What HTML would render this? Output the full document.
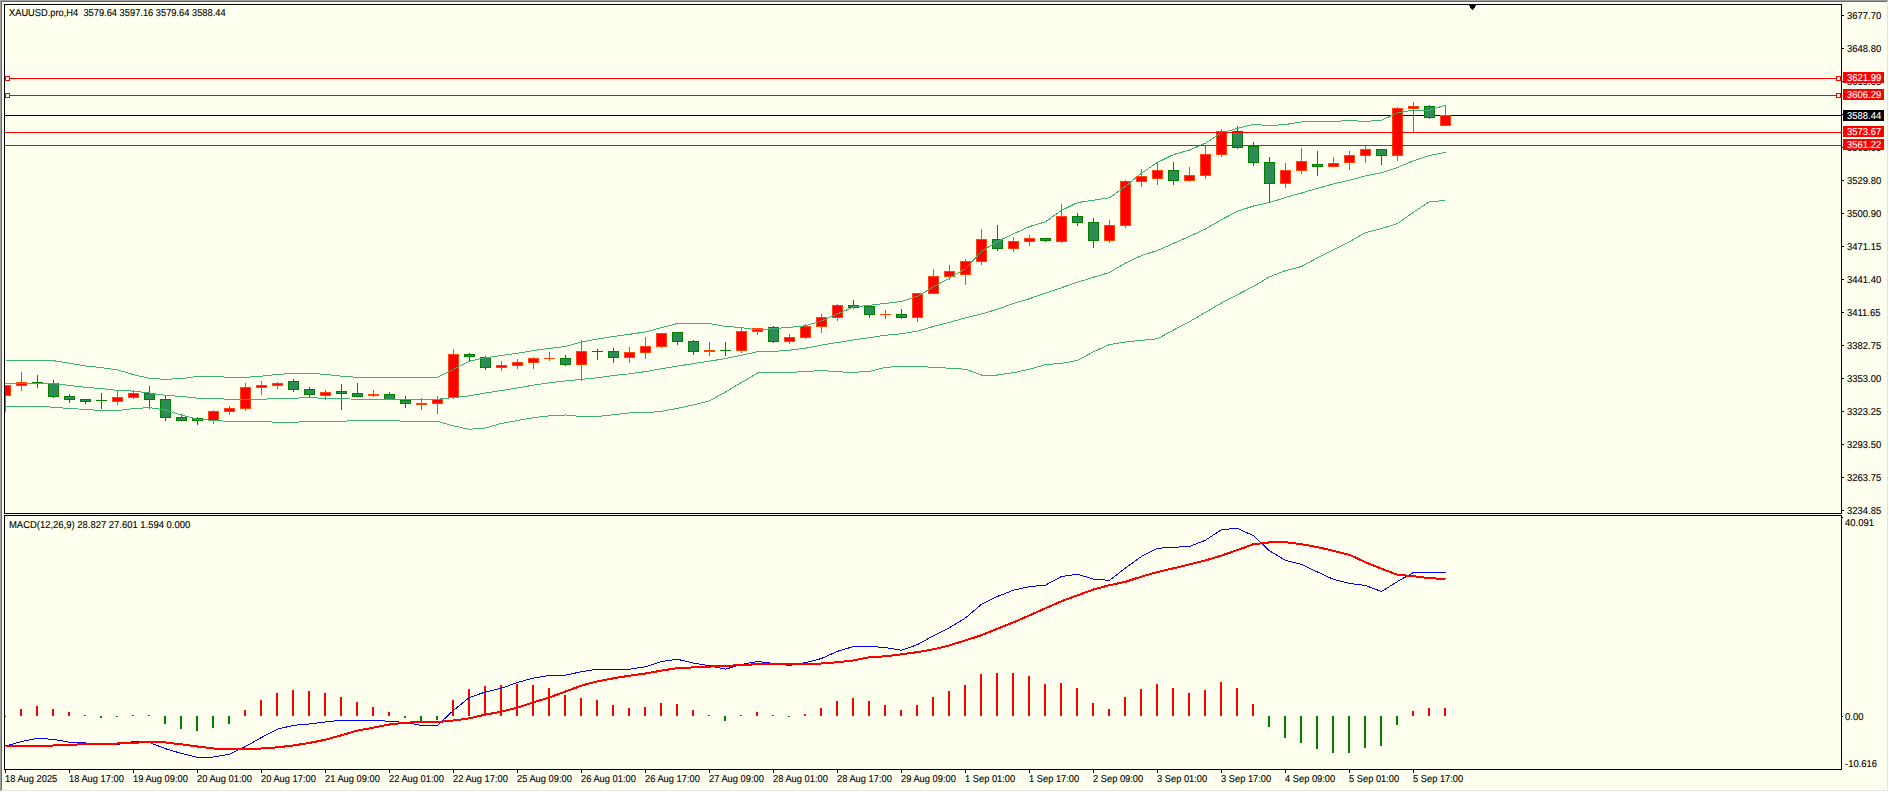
<!DOCTYPE html>
<html><head><meta charset="utf-8"><title>XAUUSD.pro,H4</title>
<style>html,body{margin:0;padding:0;background:#FFFFF0;overflow:hidden;width:1889px;height:792px} svg{display:block} text{white-space:pre}</style>
</head><body>
<svg width="1889" height="792" viewBox="0 0 1889 792" shape-rendering="crispEdges" text-rendering="geometricPrecision" font-family="'Liberation Sans', sans-serif">
<defs><clipPath id="cm"><rect x="5" y="5" width="1836" height="508"/></clipPath><clipPath id="cd"><rect x="5" y="516" width="1836" height="253"/></clipPath></defs>
<rect x="0" y="0" width="1889" height="792" fill="#FFFFF0"/>
<rect x="0" y="0" width="1888" height="1" fill="#A0A0A0"/>
<rect x="0" y="0" width="1" height="791" fill="#A0A0A0"/>
<rect x="1" y="1" width="1886" height="1" fill="#696969"/>
<rect x="1" y="1" width="1" height="789" fill="#696969"/>
<rect x="1887" y="1" width="1" height="790" fill="#E3E3E3"/>
<rect x="1" y="790" width="1887" height="1" fill="#E3E3E3"/>
<rect x="1888" y="0" width="1" height="792" fill="#FFFFFF"/>
<rect x="0" y="791" width="1889" height="1" fill="#FFFFFF"/>
<g clip-path="url(#cm)">
<rect x="5" y="115" width="1836" height="1" fill="#000000"/>
<rect x="5" y="385" width="1" height="27" fill="#FF4500"/>
<rect x="0" y="385" width="11" height="11" fill="#FF4500"/>
<rect x="1" y="386" width="9" height="9" fill="#FF0000"/>
<rect x="21" y="372" width="1" height="19" fill="#FF4500"/>
<rect x="16" y="382" width="11" height="4" fill="#FF4500"/>
<rect x="17" y="383" width="9" height="2" fill="#FF0000"/>
<rect x="37" y="375" width="1" height="13" fill="#008000"/>
<rect x="32" y="382" width="11" height="2" fill="#008000"/>
<rect x="53" y="380" width="1" height="18" fill="#008000"/>
<rect x="48" y="383" width="11" height="14" fill="#008000"/>
<rect x="49" y="384" width="9" height="12" fill="#2E8B57"/>
<rect x="69" y="394" width="1" height="9" fill="#008000"/>
<rect x="64" y="396" width="11" height="4" fill="#008000"/>
<rect x="65" y="397" width="9" height="2" fill="#2E8B57"/>
<rect x="85" y="399" width="1" height="5" fill="#008000"/>
<rect x="80" y="399" width="11" height="3" fill="#008000"/>
<rect x="81" y="400" width="9" height="1" fill="#2E8B57"/>
<rect x="101" y="393" width="1" height="16" fill="#008000"/>
<rect x="96" y="400" width="11" height="1" fill="#008000"/>
<rect x="117" y="391" width="1" height="14" fill="#FF4500"/>
<rect x="112" y="397" width="11" height="5" fill="#FF4500"/>
<rect x="113" y="398" width="9" height="3" fill="#FF0000"/>
<rect x="133" y="390" width="1" height="9" fill="#FF4500"/>
<rect x="128" y="393" width="11" height="5" fill="#FF4500"/>
<rect x="129" y="394" width="9" height="3" fill="#FF0000"/>
<rect x="149" y="386" width="1" height="23" fill="#008000"/>
<rect x="144" y="393" width="11" height="7" fill="#008000"/>
<rect x="145" y="394" width="9" height="5" fill="#2E8B57"/>
<rect x="165" y="396" width="1" height="25" fill="#008000"/>
<rect x="160" y="399" width="11" height="19" fill="#008000"/>
<rect x="161" y="400" width="9" height="17" fill="#2E8B57"/>
<rect x="181" y="414" width="1" height="7" fill="#008000"/>
<rect x="176" y="417" width="11" height="4" fill="#008000"/>
<rect x="177" y="418" width="9" height="2" fill="#2E8B57"/>
<rect x="197" y="417" width="1" height="8" fill="#008000"/>
<rect x="192" y="418" width="11" height="3" fill="#008000"/>
<rect x="193" y="419" width="9" height="1" fill="#2E8B57"/>
<rect x="213" y="410" width="1" height="14" fill="#FF4500"/>
<rect x="208" y="411" width="11" height="10" fill="#FF4500"/>
<rect x="209" y="412" width="9" height="8" fill="#FF0000"/>
<rect x="229" y="406" width="1" height="9" fill="#FF4500"/>
<rect x="224" y="408" width="11" height="4" fill="#FF4500"/>
<rect x="225" y="409" width="9" height="2" fill="#FF0000"/>
<rect x="245" y="383" width="1" height="28" fill="#FF4500"/>
<rect x="240" y="387" width="11" height="22" fill="#FF4500"/>
<rect x="241" y="388" width="9" height="20" fill="#FF0000"/>
<rect x="261" y="381" width="1" height="14" fill="#FF4500"/>
<rect x="256" y="385" width="11" height="3" fill="#FF4500"/>
<rect x="257" y="386" width="9" height="1" fill="#FF0000"/>
<rect x="277" y="382" width="1" height="7" fill="#FF4500"/>
<rect x="272" y="383" width="11" height="3" fill="#FF4500"/>
<rect x="273" y="384" width="9" height="1" fill="#FF0000"/>
<rect x="293" y="379" width="1" height="13" fill="#008000"/>
<rect x="288" y="381" width="11" height="9" fill="#008000"/>
<rect x="289" y="382" width="9" height="7" fill="#2E8B57"/>
<rect x="309" y="387" width="1" height="11" fill="#008000"/>
<rect x="304" y="389" width="11" height="6" fill="#008000"/>
<rect x="305" y="390" width="9" height="4" fill="#2E8B57"/>
<rect x="325" y="390" width="1" height="10" fill="#FF4500"/>
<rect x="320" y="392" width="11" height="4" fill="#FF4500"/>
<rect x="321" y="393" width="9" height="2" fill="#FF0000"/>
<rect x="341" y="384" width="1" height="26" fill="#008000"/>
<rect x="336" y="391" width="11" height="3" fill="#008000"/>
<rect x="337" y="392" width="9" height="1" fill="#2E8B57"/>
<rect x="357" y="383" width="1" height="14" fill="#008000"/>
<rect x="352" y="393" width="11" height="4" fill="#008000"/>
<rect x="353" y="394" width="9" height="2" fill="#2E8B57"/>
<rect x="373" y="390" width="1" height="7" fill="#FF4500"/>
<rect x="368" y="394" width="11" height="2" fill="#FF4500"/>
<rect x="389" y="392" width="1" height="8" fill="#008000"/>
<rect x="384" y="394" width="11" height="6" fill="#008000"/>
<rect x="385" y="395" width="9" height="4" fill="#2E8B57"/>
<rect x="405" y="396" width="1" height="12" fill="#008000"/>
<rect x="400" y="400" width="11" height="4" fill="#008000"/>
<rect x="401" y="401" width="9" height="2" fill="#2E8B57"/>
<rect x="421" y="398" width="1" height="12" fill="#FF4500"/>
<rect x="416" y="403" width="11" height="2" fill="#FF4500"/>
<rect x="437" y="396" width="1" height="18" fill="#FF4500"/>
<rect x="432" y="399" width="11" height="5" fill="#FF4500"/>
<rect x="433" y="400" width="9" height="3" fill="#FF0000"/>
<rect x="453" y="349" width="1" height="50" fill="#FF4500"/>
<rect x="448" y="354" width="11" height="44" fill="#FF4500"/>
<rect x="449" y="355" width="9" height="42" fill="#FF0000"/>
<rect x="469" y="353" width="1" height="9" fill="#008000"/>
<rect x="464" y="354" width="11" height="3" fill="#008000"/>
<rect x="465" y="355" width="9" height="1" fill="#2E8B57"/>
<rect x="485" y="356" width="1" height="14" fill="#008000"/>
<rect x="480" y="357" width="11" height="11" fill="#008000"/>
<rect x="481" y="358" width="9" height="9" fill="#2E8B57"/>
<rect x="501" y="361" width="1" height="10" fill="#FF4500"/>
<rect x="496" y="365" width="11" height="3" fill="#FF4500"/>
<rect x="497" y="366" width="9" height="1" fill="#FF0000"/>
<rect x="517" y="359" width="1" height="10" fill="#FF4500"/>
<rect x="512" y="362" width="11" height="4" fill="#FF4500"/>
<rect x="513" y="363" width="9" height="2" fill="#FF0000"/>
<rect x="533" y="357" width="1" height="12" fill="#FF4500"/>
<rect x="528" y="358" width="11" height="5" fill="#FF4500"/>
<rect x="529" y="359" width="9" height="3" fill="#FF0000"/>
<rect x="549" y="352" width="1" height="9" fill="#FF4500"/>
<rect x="544" y="358" width="11" height="1" fill="#FF4500"/>
<rect x="565" y="355" width="1" height="11" fill="#008000"/>
<rect x="560" y="358" width="11" height="7" fill="#008000"/>
<rect x="561" y="359" width="9" height="5" fill="#2E8B57"/>
<rect x="581" y="340" width="1" height="41" fill="#FF4500"/>
<rect x="576" y="351" width="11" height="14" fill="#FF4500"/>
<rect x="577" y="352" width="9" height="12" fill="#FF0000"/>
<rect x="597" y="349" width="1" height="11" fill="#008000"/>
<rect x="592" y="351" width="11" height="1" fill="#008000"/>
<rect x="613" y="348" width="1" height="15" fill="#008000"/>
<rect x="608" y="351" width="11" height="7" fill="#008000"/>
<rect x="609" y="352" width="9" height="5" fill="#2E8B57"/>
<rect x="629" y="347" width="1" height="16" fill="#FF4500"/>
<rect x="624" y="352" width="11" height="6" fill="#FF4500"/>
<rect x="625" y="353" width="9" height="4" fill="#FF0000"/>
<rect x="645" y="337" width="1" height="22" fill="#FF4500"/>
<rect x="640" y="346" width="11" height="7" fill="#FF4500"/>
<rect x="641" y="347" width="9" height="5" fill="#FF0000"/>
<rect x="661" y="333" width="1" height="15" fill="#FF4500"/>
<rect x="656" y="333" width="11" height="14" fill="#FF4500"/>
<rect x="657" y="334" width="9" height="12" fill="#FF0000"/>
<rect x="677" y="332" width="1" height="13" fill="#008000"/>
<rect x="672" y="332" width="11" height="10" fill="#008000"/>
<rect x="673" y="333" width="9" height="8" fill="#2E8B57"/>
<rect x="693" y="340" width="1" height="15" fill="#008000"/>
<rect x="688" y="341" width="11" height="11" fill="#008000"/>
<rect x="689" y="342" width="9" height="9" fill="#2E8B57"/>
<rect x="709" y="342" width="1" height="14" fill="#FF4500"/>
<rect x="704" y="350" width="11" height="2" fill="#FF4500"/>
<rect x="725" y="342" width="1" height="14" fill="#008000"/>
<rect x="720" y="350" width="11" height="1" fill="#008000"/>
<rect x="741" y="328" width="1" height="25" fill="#FF4500"/>
<rect x="736" y="331" width="11" height="20" fill="#FF4500"/>
<rect x="737" y="332" width="9" height="18" fill="#FF0000"/>
<rect x="757" y="328" width="1" height="7" fill="#FF4500"/>
<rect x="752" y="328" width="11" height="4" fill="#FF4500"/>
<rect x="753" y="329" width="9" height="2" fill="#FF0000"/>
<rect x="773" y="326" width="1" height="17" fill="#008000"/>
<rect x="768" y="327" width="11" height="15" fill="#008000"/>
<rect x="769" y="328" width="9" height="13" fill="#2E8B57"/>
<rect x="789" y="334" width="1" height="10" fill="#FF4500"/>
<rect x="784" y="337" width="11" height="5" fill="#FF4500"/>
<rect x="785" y="338" width="9" height="3" fill="#FF0000"/>
<rect x="805" y="324" width="1" height="15" fill="#FF4500"/>
<rect x="800" y="326" width="11" height="12" fill="#FF4500"/>
<rect x="801" y="327" width="9" height="10" fill="#FF0000"/>
<rect x="821" y="314" width="1" height="19" fill="#FF4500"/>
<rect x="816" y="317" width="11" height="10" fill="#FF4500"/>
<rect x="817" y="318" width="9" height="8" fill="#FF0000"/>
<rect x="837" y="304" width="1" height="17" fill="#FF4500"/>
<rect x="832" y="305" width="11" height="13" fill="#FF4500"/>
<rect x="833" y="306" width="9" height="11" fill="#FF0000"/>
<rect x="853" y="300" width="1" height="9" fill="#008000"/>
<rect x="848" y="305" width="11" height="3" fill="#008000"/>
<rect x="849" y="306" width="9" height="1" fill="#2E8B57"/>
<rect x="869" y="305" width="1" height="13" fill="#008000"/>
<rect x="864" y="306" width="11" height="9" fill="#008000"/>
<rect x="865" y="307" width="9" height="7" fill="#2E8B57"/>
<rect x="885" y="310" width="1" height="9" fill="#FF4500"/>
<rect x="880" y="314" width="11" height="1" fill="#FF4500"/>
<rect x="901" y="309" width="1" height="10" fill="#008000"/>
<rect x="896" y="314" width="11" height="4" fill="#008000"/>
<rect x="897" y="315" width="9" height="2" fill="#2E8B57"/>
<rect x="917" y="293" width="1" height="29" fill="#FF4500"/>
<rect x="912" y="293" width="11" height="25" fill="#FF4500"/>
<rect x="913" y="294" width="9" height="23" fill="#FF0000"/>
<rect x="933" y="269" width="1" height="25" fill="#FF4500"/>
<rect x="928" y="276" width="11" height="18" fill="#FF4500"/>
<rect x="929" y="277" width="9" height="16" fill="#FF0000"/>
<rect x="949" y="265" width="1" height="15" fill="#FF4500"/>
<rect x="944" y="271" width="11" height="6" fill="#FF4500"/>
<rect x="945" y="272" width="9" height="4" fill="#FF0000"/>
<rect x="965" y="259" width="1" height="26" fill="#FF4500"/>
<rect x="960" y="261" width="11" height="14" fill="#FF4500"/>
<rect x="961" y="262" width="9" height="12" fill="#FF0000"/>
<rect x="981" y="229" width="1" height="36" fill="#FF4500"/>
<rect x="976" y="239" width="11" height="23" fill="#FF4500"/>
<rect x="977" y="240" width="9" height="21" fill="#FF0000"/>
<rect x="997" y="225" width="1" height="26" fill="#008000"/>
<rect x="992" y="239" width="11" height="10" fill="#008000"/>
<rect x="993" y="240" width="9" height="8" fill="#2E8B57"/>
<rect x="1013" y="237" width="1" height="15" fill="#FF4500"/>
<rect x="1008" y="241" width="11" height="8" fill="#FF4500"/>
<rect x="1009" y="242" width="9" height="6" fill="#FF0000"/>
<rect x="1029" y="235" width="1" height="11" fill="#FF4500"/>
<rect x="1024" y="238" width="11" height="4" fill="#FF4500"/>
<rect x="1025" y="239" width="9" height="2" fill="#FF0000"/>
<rect x="1045" y="238" width="1" height="4" fill="#008000"/>
<rect x="1040" y="238" width="11" height="3" fill="#008000"/>
<rect x="1041" y="239" width="9" height="1" fill="#2E8B57"/>
<rect x="1061" y="204" width="1" height="39" fill="#FF4500"/>
<rect x="1056" y="216" width="11" height="26" fill="#FF4500"/>
<rect x="1057" y="217" width="9" height="24" fill="#FF0000"/>
<rect x="1077" y="213" width="1" height="13" fill="#008000"/>
<rect x="1072" y="216" width="11" height="7" fill="#008000"/>
<rect x="1073" y="217" width="9" height="5" fill="#2E8B57"/>
<rect x="1093" y="218" width="1" height="30" fill="#008000"/>
<rect x="1088" y="222" width="11" height="19" fill="#008000"/>
<rect x="1089" y="223" width="9" height="17" fill="#2E8B57"/>
<rect x="1109" y="220" width="1" height="23" fill="#FF4500"/>
<rect x="1104" y="225" width="11" height="16" fill="#FF4500"/>
<rect x="1105" y="226" width="9" height="14" fill="#FF0000"/>
<rect x="1125" y="180" width="1" height="48" fill="#FF4500"/>
<rect x="1120" y="181" width="11" height="45" fill="#FF4500"/>
<rect x="1121" y="182" width="9" height="43" fill="#FF0000"/>
<rect x="1141" y="169" width="1" height="18" fill="#FF4500"/>
<rect x="1136" y="176" width="11" height="6" fill="#FF4500"/>
<rect x="1137" y="177" width="9" height="4" fill="#FF0000"/>
<rect x="1157" y="163" width="1" height="22" fill="#FF4500"/>
<rect x="1152" y="170" width="11" height="9" fill="#FF4500"/>
<rect x="1153" y="171" width="9" height="7" fill="#FF0000"/>
<rect x="1173" y="162" width="1" height="23" fill="#008000"/>
<rect x="1168" y="170" width="11" height="11" fill="#008000"/>
<rect x="1169" y="171" width="9" height="9" fill="#2E8B57"/>
<rect x="1189" y="167" width="1" height="15" fill="#FF4500"/>
<rect x="1184" y="175" width="11" height="6" fill="#FF4500"/>
<rect x="1185" y="176" width="9" height="4" fill="#FF0000"/>
<rect x="1205" y="146" width="1" height="33" fill="#FF4500"/>
<rect x="1200" y="154" width="11" height="22" fill="#FF4500"/>
<rect x="1201" y="155" width="9" height="20" fill="#FF0000"/>
<rect x="1221" y="129" width="1" height="28" fill="#FF4500"/>
<rect x="1216" y="131" width="11" height="24" fill="#FF4500"/>
<rect x="1217" y="132" width="9" height="22" fill="#FF0000"/>
<rect x="1237" y="126" width="1" height="23" fill="#008000"/>
<rect x="1232" y="131" width="11" height="17" fill="#008000"/>
<rect x="1233" y="132" width="9" height="15" fill="#2E8B57"/>
<rect x="1253" y="142" width="1" height="24" fill="#008000"/>
<rect x="1248" y="146" width="11" height="17" fill="#008000"/>
<rect x="1249" y="147" width="9" height="15" fill="#2E8B57"/>
<rect x="1269" y="157" width="1" height="46" fill="#008000"/>
<rect x="1264" y="162" width="11" height="22" fill="#008000"/>
<rect x="1265" y="163" width="9" height="20" fill="#2E8B57"/>
<rect x="1285" y="163" width="1" height="25" fill="#FF4500"/>
<rect x="1280" y="170" width="11" height="14" fill="#FF4500"/>
<rect x="1281" y="171" width="9" height="12" fill="#FF0000"/>
<rect x="1301" y="148" width="1" height="26" fill="#FF4500"/>
<rect x="1296" y="161" width="11" height="10" fill="#FF4500"/>
<rect x="1297" y="162" width="9" height="8" fill="#FF0000"/>
<rect x="1317" y="151" width="1" height="25" fill="#008000"/>
<rect x="1312" y="164" width="11" height="3" fill="#008000"/>
<rect x="1313" y="165" width="9" height="1" fill="#2E8B57"/>
<rect x="1333" y="157" width="1" height="10" fill="#FF4500"/>
<rect x="1328" y="163" width="11" height="4" fill="#FF4500"/>
<rect x="1329" y="164" width="9" height="2" fill="#FF0000"/>
<rect x="1349" y="151" width="1" height="19" fill="#FF4500"/>
<rect x="1344" y="155" width="11" height="8" fill="#FF4500"/>
<rect x="1345" y="156" width="9" height="6" fill="#FF0000"/>
<rect x="1365" y="146" width="1" height="17" fill="#FF4500"/>
<rect x="1360" y="149" width="11" height="7" fill="#FF4500"/>
<rect x="1361" y="150" width="9" height="5" fill="#FF0000"/>
<rect x="1381" y="149" width="1" height="16" fill="#008000"/>
<rect x="1376" y="149" width="11" height="7" fill="#008000"/>
<rect x="1377" y="150" width="9" height="5" fill="#2E8B57"/>
<rect x="1397" y="107" width="1" height="54" fill="#FF4500"/>
<rect x="1392" y="108" width="11" height="48" fill="#FF4500"/>
<rect x="1393" y="109" width="9" height="46" fill="#FF0000"/>
<rect x="1413" y="102" width="1" height="31" fill="#FF4500"/>
<rect x="1408" y="106" width="11" height="3" fill="#FF4500"/>
<rect x="1409" y="107" width="9" height="1" fill="#FF0000"/>
<rect x="1429" y="105" width="1" height="14" fill="#008000"/>
<rect x="1424" y="106" width="11" height="12" fill="#008000"/>
<rect x="1425" y="107" width="9" height="10" fill="#2E8B57"/>
<rect x="1445" y="105" width="1" height="21" fill="#FF4500"/>
<rect x="1440" y="115" width="11" height="11" fill="#FF4500"/>
<rect x="1441" y="116" width="9" height="9" fill="#FF0000"/>
<polyline points="5.5,360.5 21.5,360.5 37.5,360.5 53.5,360.7 69.5,363.2 85.5,366.0 101.5,367.6 117.5,369.9 133.5,374.6 149.5,378.4 165.5,379.3 181.5,378.6 197.5,376.4 213.5,376.4 229.5,377.3 245.5,377.3 261.5,376.2 277.5,374.4 293.5,373.4 309.5,373.4 325.5,374.3 341.5,376.2 357.5,377.3 373.5,377.3 389.5,377.4 405.5,377.4 421.5,377.4 437.5,377.4 453.5,369.4 469.5,361.1 485.5,357.7 501.5,355.5 517.5,353.3 533.5,350.5 549.5,348.4 565.5,346.5 581.5,341.9 597.5,339.1 613.5,336.5 629.5,334.3 645.5,332.0 661.5,327.6 677.5,323.5 693.5,323.5 709.5,323.5 725.5,326.4 741.5,327.6 757.5,329.9 773.5,328.6 789.5,327.3 805.5,325.8 821.5,320.9 837.5,313.9 853.5,307.0 869.5,305.3 885.5,303.4 901.5,301.4 917.5,296.3 933.5,286.9 949.5,278.0 965.5,268.6 981.5,251.5 997.5,241.4 1013.5,233.8 1029.5,226.6 1045.5,221.8 1061.5,210.4 1077.5,202.6 1093.5,200.2 1109.5,197.8 1125.5,186.4 1141.5,173.2 1157.5,162.4 1173.5,154.6 1189.5,150.0 1205.5,143.2 1221.5,133.0 1237.5,128.4 1253.5,124.4 1269.5,125.6 1285.5,124.5 1301.5,121.9 1317.5,121.4 1333.5,121.4 1349.5,120.6 1365.5,121.4 1381.5,120.3 1397.5,112.7 1413.5,110.2 1429.5,110.2 1445.5,105.1" fill="none" stroke="#3CB371" stroke-width="1"/>
<polyline points="5.5,383.5 21.5,383.3 37.5,383.1 53.5,383.5 69.5,385.5 85.5,387.3 101.5,388.6 117.5,390.4 133.5,391.1 149.5,393.1 165.5,395.4 181.5,396.4 197.5,398.2 213.5,398.5 229.5,399.3 245.5,399.3 261.5,399.4 277.5,398.3 293.5,398.3 309.5,397.4 325.5,398.5 341.5,398.5 357.5,399.4 373.5,399.4 389.5,399.3 405.5,399.3 421.5,399.3 437.5,399.3 453.5,397.5 469.5,395.8 485.5,393.0 501.5,390.5 517.5,388.0 533.5,385.1 549.5,382.8 565.5,380.9 581.5,379.4 597.5,377.7 613.5,375.5 629.5,373.8 645.5,371.6 661.5,368.7 677.5,366.1 693.5,363.6 709.5,361.1 725.5,358.6 741.5,355.4 757.5,351.6 773.5,351.4 789.5,350.2 805.5,348.2 821.5,345.1 837.5,342.5 853.5,340.0 869.5,337.7 885.5,335.2 901.5,333.8 917.5,331.1 933.5,326.4 949.5,322.4 965.5,317.8 981.5,313.9 997.5,309.3 1013.5,303.4 1029.5,298.7 1045.5,293.2 1061.5,287.7 1077.5,282.2 1093.5,277.3 1109.5,272.5 1125.5,263.0 1141.5,255.6 1157.5,250.4 1173.5,243.5 1189.5,236.3 1205.5,229.0 1221.5,219.6 1237.5,211.3 1253.5,206.0 1269.5,202.5 1285.5,197.5 1301.5,193.0 1317.5,188.4 1333.5,183.9 1349.5,180.2 1365.5,175.9 1381.5,172.8 1397.5,167.5 1413.5,160.7 1429.5,155.6 1445.5,152.4" fill="none" stroke="#3CB371" stroke-width="1"/>
<polyline points="5.5,406.3 21.5,406.3 37.5,406.3 53.5,407.2 69.5,408.5 85.5,409.4 101.5,410.5 117.5,410.5 133.5,408.6 149.5,407.6 165.5,410.0 181.5,415.2 197.5,419.2 213.5,420.4 229.5,421.4 245.5,421.4 261.5,421.3 277.5,422.4 293.5,422.4 309.5,421.3 325.5,421.3 341.5,421.3 357.5,420.4 373.5,420.4 389.5,420.2 405.5,421.4 421.5,421.4 437.5,421.4 453.5,425.9 469.5,429.3 485.5,428.0 501.5,423.4 517.5,420.5 533.5,417.7 549.5,415.8 565.5,415.0 581.5,416.6 597.5,416.6 613.5,414.7 629.5,413.0 645.5,412.9 661.5,411.2 677.5,408.4 693.5,404.9 709.5,400.9 725.5,392.0 741.5,382.5 757.5,373.0 773.5,372.4 789.5,372.4 805.5,371.6 821.5,370.5 837.5,371.8 853.5,372.4 869.5,371.3 885.5,367.3 901.5,366.4 917.5,366.4 933.5,367.3 949.5,368.2 965.5,369.2 981.5,375.0 997.5,375.0 1013.5,372.7 1029.5,369.2 1045.5,364.6 1061.5,363.3 1077.5,360.4 1093.5,351.8 1109.5,344.5 1125.5,342.1 1141.5,340.3 1157.5,338.8 1173.5,330.0 1189.5,321.7 1205.5,312.3 1221.5,303.0 1237.5,294.6 1253.5,286.3 1269.5,276.9 1285.5,270.6 1301.5,266.5 1317.5,257.8 1333.5,249.7 1349.5,241.8 1365.5,232.6 1381.5,228.6 1397.5,223.6 1413.5,212.2 1429.5,201.6 1445.5,200.6" fill="none" stroke="#3CB371" stroke-width="1"/>
<rect x="5" y="78" width="1836" height="1" fill="#FF0000"/>
<rect x="5" y="95" width="1836" height="1" fill="#FF0000"/>
<rect x="5" y="132" width="1836" height="1" fill="#FF0000"/>
<rect x="5" y="145" width="1836" height="1" fill="#FF0000"/>
<rect x="5.5" y="76.5" width="4" height="4" fill="#FFFFF0" stroke="#FF0000" stroke-width="1"/>
<rect x="1836.5" y="76.5" width="4" height="4" fill="#FFFFF0" stroke="#FF0000" stroke-width="1"/>
<rect x="5.5" y="93.5" width="4" height="4" fill="#FFFFF0" stroke="#FF0000" stroke-width="1"/>
<rect x="1836.5" y="93.5" width="4" height="4" fill="#FFFFF0" stroke="#FF0000" stroke-width="1"/>
</g>
<polygon points="1467.5,4 1477.5,4 1472.5,10" fill="#000"/>
<rect x="4" y="4" width="1838" height="1" fill="#000"/>
<rect x="4" y="513" width="1838" height="1" fill="#000"/>
<rect x="4" y="4" width="1" height="510" fill="#000"/>
<rect x="1841" y="4" width="1" height="510" fill="#000"/>
<rect x="4" y="515" width="1838" height="1" fill="#000"/>
<rect x="4" y="769" width="1838" height="1" fill="#000"/>
<rect x="4" y="515" width="1" height="255" fill="#000"/>
<rect x="1841" y="515" width="1" height="255" fill="#000"/>
<rect x="1842" y="15" width="2" height="1" fill="#000"/>
<text transform="translate(1847,19) scale(0.945,1)" fill="#000" stroke="#000" stroke-width="0.12" font-size="10.0" text-anchor="start">3677.70</text>
<rect x="1842" y="48" width="2" height="1" fill="#000"/>
<text transform="translate(1847,52) scale(0.945,1)" fill="#000" stroke="#000" stroke-width="0.12" font-size="10.0" text-anchor="start">3648.80</text>
<rect x="1842" y="81" width="2" height="1" fill="#000"/>
<text transform="translate(1847,85) scale(0.945,1)" fill="#000" stroke="#000" stroke-width="0.12" font-size="10.0" text-anchor="start">3619.85</text>
<rect x="1842" y="114" width="2" height="1" fill="#000"/>
<text transform="translate(1847,118) scale(0.945,1)" fill="#000" stroke="#000" stroke-width="0.12" font-size="10.0" text-anchor="start">3590.90</text>
<rect x="1842" y="147" width="2" height="1" fill="#000"/>
<text transform="translate(1847,151) scale(0.945,1)" fill="#000" stroke="#000" stroke-width="0.12" font-size="10.0" text-anchor="start">3561.95</text>
<rect x="1842" y="180" width="2" height="1" fill="#000"/>
<text transform="translate(1847,184) scale(0.945,1)" fill="#000" stroke="#000" stroke-width="0.12" font-size="10.0" text-anchor="start">3529.80</text>
<rect x="1842" y="213" width="2" height="1" fill="#000"/>
<text transform="translate(1847,217) scale(0.945,1)" fill="#000" stroke="#000" stroke-width="0.12" font-size="10.0" text-anchor="start">3500.90</text>
<rect x="1842" y="246" width="2" height="1" fill="#000"/>
<text transform="translate(1847,250) scale(0.945,1)" fill="#000" stroke="#000" stroke-width="0.12" font-size="10.0" text-anchor="start">3471.15</text>
<rect x="1842" y="279" width="2" height="1" fill="#000"/>
<text transform="translate(1847,283) scale(0.945,1)" fill="#000" stroke="#000" stroke-width="0.12" font-size="10.0" text-anchor="start">3441.40</text>
<rect x="1842" y="312" width="2" height="1" fill="#000"/>
<text transform="translate(1847,316) scale(0.945,1)" fill="#000" stroke="#000" stroke-width="0.12" font-size="10.0" text-anchor="start">3411.65</text>
<rect x="1842" y="345" width="2" height="1" fill="#000"/>
<text transform="translate(1847,349) scale(0.945,1)" fill="#000" stroke="#000" stroke-width="0.12" font-size="10.0" text-anchor="start">3382.75</text>
<rect x="1842" y="378" width="2" height="1" fill="#000"/>
<text transform="translate(1847,382) scale(0.945,1)" fill="#000" stroke="#000" stroke-width="0.12" font-size="10.0" text-anchor="start">3353.00</text>
<rect x="1842" y="411" width="2" height="1" fill="#000"/>
<text transform="translate(1847,415) scale(0.945,1)" fill="#000" stroke="#000" stroke-width="0.12" font-size="10.0" text-anchor="start">3323.25</text>
<rect x="1842" y="444" width="2" height="1" fill="#000"/>
<text transform="translate(1847,448) scale(0.945,1)" fill="#000" stroke="#000" stroke-width="0.12" font-size="10.0" text-anchor="start">3293.50</text>
<rect x="1842" y="477" width="2" height="1" fill="#000"/>
<text transform="translate(1847,481) scale(0.945,1)" fill="#000" stroke="#000" stroke-width="0.12" font-size="10.0" text-anchor="start">3263.75</text>
<rect x="1842" y="510" width="2" height="1" fill="#000"/>
<text transform="translate(1847,514) scale(0.945,1)" fill="#000" stroke="#000" stroke-width="0.12" font-size="10.0" text-anchor="start">3234.85</text>
<rect x="1843" y="72" width="41" height="11" fill="#FF0000"/>
<text transform="translate(1847,81.0) scale(0.945,1)" fill="#FFFFFF" stroke="#FFFFFF" stroke-width="0.12" font-size="10.0" text-anchor="start">3621.99</text>
<rect x="1843" y="89" width="41" height="11" fill="#FF0000"/>
<text transform="translate(1847,98.0) scale(0.945,1)" fill="#FFFFFF" stroke="#FFFFFF" stroke-width="0.12" font-size="10.0" text-anchor="start">3606.29</text>
<rect x="1843" y="110" width="41" height="11" fill="#000000"/>
<text transform="translate(1847,119.0) scale(0.945,1)" fill="#FFFFFF" stroke="#FFFFFF" stroke-width="0.12" font-size="10.0" text-anchor="start">3588.44</text>
<rect x="1843" y="126" width="41" height="11" fill="#FF0000"/>
<text transform="translate(1847,135.0) scale(0.945,1)" fill="#FFFFFF" stroke="#FFFFFF" stroke-width="0.12" font-size="10.0" text-anchor="start">3573.67</text>
<rect x="1843" y="139" width="41" height="11" fill="#FF0000"/>
<text transform="translate(1847,148.0) scale(0.945,1)" fill="#FFFFFF" stroke="#FFFFFF" stroke-width="0.12" font-size="10.0" text-anchor="start">3561.22</text>
<text transform="translate(9,16) scale(0.93,1)" fill="#000" stroke="#000" stroke-width="0.12" font-size="10.0" text-anchor="start">XAUUSD.pro,H4&#160;&#160;3579.64 3597.16 3579.64 3588.44</text>
<g clip-path="url(#cd)">
<rect x="4" y="716" width="2" height="1" fill="#008000"/>
<rect x="20" y="709" width="2" height="7" fill="#FF0000"/>
<rect x="36" y="706" width="2" height="10" fill="#FF0000"/>
<rect x="52" y="709" width="2" height="7" fill="#FF0000"/>
<rect x="68" y="712" width="2" height="4" fill="#FF0000"/>
<rect x="84" y="715" width="2" height="1" fill="#FF0000"/>
<rect x="100" y="716" width="2" height="2" fill="#008000"/>
<rect x="116" y="716" width="2" height="1" fill="#008000"/>
<rect x="132" y="715" width="2" height="1" fill="#FF0000"/>
<rect x="148" y="715" width="2" height="1" fill="#FF0000"/>
<rect x="164" y="716" width="2" height="8" fill="#008000"/>
<rect x="180" y="716" width="2" height="13" fill="#008000"/>
<rect x="196" y="716" width="2" height="15" fill="#008000"/>
<rect x="212" y="716" width="2" height="12" fill="#008000"/>
<rect x="228" y="716" width="2" height="8" fill="#008000"/>
<rect x="244" y="710" width="2" height="6" fill="#FF0000"/>
<rect x="260" y="700" width="2" height="16" fill="#FF0000"/>
<rect x="276" y="693" width="2" height="23" fill="#FF0000"/>
<rect x="292" y="690" width="2" height="26" fill="#FF0000"/>
<rect x="308" y="691" width="2" height="25" fill="#FF0000"/>
<rect x="324" y="693" width="2" height="23" fill="#FF0000"/>
<rect x="340" y="697" width="2" height="19" fill="#FF0000"/>
<rect x="356" y="702" width="2" height="14" fill="#FF0000"/>
<rect x="372" y="707" width="2" height="9" fill="#FF0000"/>
<rect x="388" y="712" width="2" height="4" fill="#FF0000"/>
<rect x="404" y="716" width="2" height="2" fill="#008000"/>
<rect x="420" y="716" width="2" height="5" fill="#008000"/>
<rect x="436" y="716" width="2" height="4" fill="#008000"/>
<rect x="452" y="700" width="2" height="16" fill="#FF0000"/>
<rect x="468" y="689" width="2" height="27" fill="#FF0000"/>
<rect x="484" y="686" width="2" height="30" fill="#FF0000"/>
<rect x="500" y="685" width="2" height="31" fill="#FF0000"/>
<rect x="516" y="684" width="2" height="32" fill="#FF0000"/>
<rect x="532" y="685" width="2" height="31" fill="#FF0000"/>
<rect x="548" y="688" width="2" height="28" fill="#FF0000"/>
<rect x="564" y="695" width="2" height="21" fill="#FF0000"/>
<rect x="580" y="698" width="2" height="18" fill="#FF0000"/>
<rect x="596" y="700" width="2" height="16" fill="#FF0000"/>
<rect x="612" y="705" width="2" height="11" fill="#FF0000"/>
<rect x="628" y="708" width="2" height="8" fill="#FF0000"/>
<rect x="644" y="707" width="2" height="9" fill="#FF0000"/>
<rect x="660" y="703" width="2" height="13" fill="#FF0000"/>
<rect x="676" y="704" width="2" height="12" fill="#FF0000"/>
<rect x="692" y="710" width="2" height="6" fill="#FF0000"/>
<rect x="708" y="715" width="2" height="1" fill="#FF0000"/>
<rect x="724" y="716" width="2" height="5" fill="#008000"/>
<rect x="740" y="715" width="2" height="1" fill="#FF0000"/>
<rect x="756" y="712" width="2" height="4" fill="#FF0000"/>
<rect x="772" y="715" width="2" height="1" fill="#FF0000"/>
<rect x="788" y="716" width="2" height="1" fill="#008000"/>
<rect x="804" y="714" width="2" height="2" fill="#FF0000"/>
<rect x="820" y="708" width="2" height="8" fill="#FF0000"/>
<rect x="836" y="701" width="2" height="15" fill="#FF0000"/>
<rect x="852" y="698" width="2" height="18" fill="#FF0000"/>
<rect x="868" y="701" width="2" height="15" fill="#FF0000"/>
<rect x="884" y="705" width="2" height="11" fill="#FF0000"/>
<rect x="900" y="710" width="2" height="6" fill="#FF0000"/>
<rect x="916" y="705" width="2" height="11" fill="#FF0000"/>
<rect x="932" y="697" width="2" height="19" fill="#FF0000"/>
<rect x="948" y="691" width="2" height="25" fill="#FF0000"/>
<rect x="964" y="685" width="2" height="31" fill="#FF0000"/>
<rect x="980" y="674" width="2" height="42" fill="#FF0000"/>
<rect x="996" y="673" width="2" height="43" fill="#FF0000"/>
<rect x="1012" y="673" width="2" height="43" fill="#FF0000"/>
<rect x="1028" y="676" width="2" height="40" fill="#FF0000"/>
<rect x="1044" y="684" width="2" height="32" fill="#FF0000"/>
<rect x="1060" y="683" width="2" height="33" fill="#FF0000"/>
<rect x="1076" y="688" width="2" height="28" fill="#FF0000"/>
<rect x="1092" y="703" width="2" height="13" fill="#FF0000"/>
<rect x="1108" y="709" width="2" height="7" fill="#FF0000"/>
<rect x="1124" y="697" width="2" height="19" fill="#FF0000"/>
<rect x="1140" y="689" width="2" height="27" fill="#FF0000"/>
<rect x="1156" y="684" width="2" height="32" fill="#FF0000"/>
<rect x="1172" y="688" width="2" height="28" fill="#FF0000"/>
<rect x="1188" y="693" width="2" height="23" fill="#FF0000"/>
<rect x="1204" y="690" width="2" height="26" fill="#FF0000"/>
<rect x="1220" y="682" width="2" height="34" fill="#FF0000"/>
<rect x="1236" y="688" width="2" height="28" fill="#FF0000"/>
<rect x="1252" y="704" width="2" height="12" fill="#FF0000"/>
<rect x="1268" y="716" width="2" height="11" fill="#008000"/>
<rect x="1284" y="716" width="2" height="22" fill="#008000"/>
<rect x="1300" y="716" width="2" height="27" fill="#008000"/>
<rect x="1316" y="716" width="2" height="33" fill="#008000"/>
<rect x="1332" y="716" width="2" height="37" fill="#008000"/>
<rect x="1348" y="716" width="2" height="37" fill="#008000"/>
<rect x="1364" y="716" width="2" height="32" fill="#008000"/>
<rect x="1380" y="716" width="2" height="30" fill="#008000"/>
<rect x="1396" y="716" width="2" height="9" fill="#008000"/>
<rect x="1412" y="711" width="2" height="5" fill="#FF0000"/>
<rect x="1428" y="708" width="2" height="8" fill="#FF0000"/>
<rect x="1444" y="708" width="2" height="8" fill="#FF0000"/>
<polyline points="5.5,746.0 21.5,741.5 37.5,738.4 53.5,739.3 69.5,742.3 85.5,743.0 101.5,744.0 117.5,744.4 133.5,741.5 149.5,742.5 165.5,748.7 181.5,753.5 197.5,757.3 213.5,757.0 229.5,754.3 245.5,746.5 261.5,737.5 277.5,729.2 293.5,725.3 309.5,724.0 325.5,722.0 341.5,720.2 357.5,720.2 373.5,720.2 389.5,721.3 405.5,722.5 421.5,725.4 437.5,725.4 453.5,710.4 469.5,697.4 485.5,692.0 501.5,688.3 517.5,682.4 533.5,678.1 549.5,675.4 565.5,675.2 581.5,671.7 597.5,669.2 613.5,669.2 629.5,669.2 645.5,666.8 661.5,661.5 677.5,659.3 693.5,663.1 709.5,665.8 725.5,669.2 741.5,664.5 757.5,661.5 773.5,663.5 789.5,665.4 805.5,662.6 821.5,658.5 837.5,651.3 853.5,646.5 869.5,646.5 885.5,647.5 901.5,650.3 917.5,644.6 933.5,635.6 949.5,627.7 965.5,617.9 981.5,604.2 997.5,596.4 1013.5,590.2 1029.5,586.6 1045.5,585.1 1061.5,576.5 1077.5,574.2 1093.5,579.1 1109.5,580.4 1125.5,568.0 1141.5,556.4 1157.5,548.3 1173.5,547.3 1189.5,546.5 1205.5,540.2 1221.5,529.6 1237.5,528.4 1253.5,535.7 1269.5,550.8 1285.5,560.4 1301.5,564.4 1317.5,572.0 1333.5,579.4 1349.5,583.4 1365.5,585.5 1381.5,591.5 1397.5,581.5 1413.5,572.4 1429.5,572.4 1445.5,572.4" fill="none" stroke="#0000FF" stroke-width="1"/>
<polyline points="5.5,745.9 21.5,745.9 37.5,745.9 53.5,745.5 69.5,745.0 85.5,744.0 101.5,744.0 117.5,743.5 133.5,742.9 149.5,741.8 165.5,742.5 181.5,744.3 197.5,746.5 213.5,748.5 229.5,748.8 245.5,748.8 261.5,748.5 277.5,747.3 293.5,745.5 309.5,742.9 325.5,739.7 341.5,735.2 357.5,730.6 373.5,727.6 389.5,724.5 405.5,722.7 421.5,722.0 437.5,722.0 453.5,720.5 469.5,718.3 485.5,714.6 501.5,711.7 517.5,707.6 533.5,702.4 549.5,697.4 565.5,691.5 581.5,685.6 597.5,681.3 613.5,678.3 629.5,675.7 645.5,673.5 661.5,670.6 677.5,668.1 693.5,667.4 709.5,666.6 725.5,665.8 741.5,665.2 757.5,664.1 773.5,663.9 789.5,663.9 805.5,663.9 821.5,663.5 837.5,662.2 853.5,660.4 869.5,657.2 885.5,656.3 901.5,654.3 917.5,652.1 933.5,649.3 949.5,645.3 965.5,640.4 981.5,635.2 997.5,628.7 1013.5,622.4 1029.5,615.4 1045.5,608.2 1061.5,601.3 1077.5,595.3 1093.5,589.5 1109.5,585.2 1125.5,581.8 1141.5,576.6 1157.5,572.0 1173.5,568.3 1189.5,564.4 1205.5,560.4 1221.5,555.6 1237.5,550.0 1253.5,544.2 1269.5,542.4 1285.5,542.2 1301.5,544.2 1317.5,547.1 1333.5,550.8 1349.5,554.8 1365.5,562.2 1381.5,568.8 1397.5,574.7 1413.5,576.2 1429.5,578.2 1445.5,579.0" fill="none" stroke="#FF0000" stroke-width="2"/>
</g>
<text transform="translate(9,528) scale(0.945,1)" fill="#000" stroke="#000" stroke-width="0.12" font-size="10.0" text-anchor="start">MACD(12,26,9) 28.827 27.601 1.594 0.000</text>
<rect x="1842" y="517" width="1" height="1" fill="#000"/>
<text transform="translate(1845,526) scale(0.945,1)" fill="#000" stroke="#000" stroke-width="0.12" font-size="10.0" text-anchor="start">40.091</text>
<rect x="1842" y="716" width="1" height="1" fill="#000"/>
<text transform="translate(1845,720) scale(0.945,1)" fill="#000" stroke="#000" stroke-width="0.12" font-size="10.0" text-anchor="start">0.00</text>
<text transform="translate(1845,767) scale(0.945,1)" fill="#000" stroke="#000" stroke-width="0.12" font-size="10.0" text-anchor="start">-10.616</text>
<rect x="5" y="770" width="1" height="3" fill="#000"/>
<text transform="translate(5,782) scale(0.93,1)" fill="#000" stroke="#000" stroke-width="0.12" font-size="10.0" text-anchor="start">18 Aug 2025</text>
<rect x="69" y="770" width="1" height="3" fill="#000"/>
<text transform="translate(69,782) scale(0.93,1)" fill="#000" stroke="#000" stroke-width="0.12" font-size="10.0" text-anchor="start">18 Aug 17:00</text>
<rect x="133" y="770" width="1" height="3" fill="#000"/>
<text transform="translate(133,782) scale(0.93,1)" fill="#000" stroke="#000" stroke-width="0.12" font-size="10.0" text-anchor="start">19 Aug 09:00</text>
<rect x="197" y="770" width="1" height="3" fill="#000"/>
<text transform="translate(197,782) scale(0.93,1)" fill="#000" stroke="#000" stroke-width="0.12" font-size="10.0" text-anchor="start">20 Aug 01:00</text>
<rect x="261" y="770" width="1" height="3" fill="#000"/>
<text transform="translate(261,782) scale(0.93,1)" fill="#000" stroke="#000" stroke-width="0.12" font-size="10.0" text-anchor="start">20 Aug 17:00</text>
<rect x="325" y="770" width="1" height="3" fill="#000"/>
<text transform="translate(325,782) scale(0.93,1)" fill="#000" stroke="#000" stroke-width="0.12" font-size="10.0" text-anchor="start">21 Aug 09:00</text>
<rect x="389" y="770" width="1" height="3" fill="#000"/>
<text transform="translate(389,782) scale(0.93,1)" fill="#000" stroke="#000" stroke-width="0.12" font-size="10.0" text-anchor="start">22 Aug 01:00</text>
<rect x="453" y="770" width="1" height="3" fill="#000"/>
<text transform="translate(453,782) scale(0.93,1)" fill="#000" stroke="#000" stroke-width="0.12" font-size="10.0" text-anchor="start">22 Aug 17:00</text>
<rect x="517" y="770" width="1" height="3" fill="#000"/>
<text transform="translate(517,782) scale(0.93,1)" fill="#000" stroke="#000" stroke-width="0.12" font-size="10.0" text-anchor="start">25 Aug 09:00</text>
<rect x="581" y="770" width="1" height="3" fill="#000"/>
<text transform="translate(581,782) scale(0.93,1)" fill="#000" stroke="#000" stroke-width="0.12" font-size="10.0" text-anchor="start">26 Aug 01:00</text>
<rect x="645" y="770" width="1" height="3" fill="#000"/>
<text transform="translate(645,782) scale(0.93,1)" fill="#000" stroke="#000" stroke-width="0.12" font-size="10.0" text-anchor="start">26 Aug 17:00</text>
<rect x="709" y="770" width="1" height="3" fill="#000"/>
<text transform="translate(709,782) scale(0.93,1)" fill="#000" stroke="#000" stroke-width="0.12" font-size="10.0" text-anchor="start">27 Aug 09:00</text>
<rect x="773" y="770" width="1" height="3" fill="#000"/>
<text transform="translate(773,782) scale(0.93,1)" fill="#000" stroke="#000" stroke-width="0.12" font-size="10.0" text-anchor="start">28 Aug 01:00</text>
<rect x="837" y="770" width="1" height="3" fill="#000"/>
<text transform="translate(837,782) scale(0.93,1)" fill="#000" stroke="#000" stroke-width="0.12" font-size="10.0" text-anchor="start">28 Aug 17:00</text>
<rect x="901" y="770" width="1" height="3" fill="#000"/>
<text transform="translate(901,782) scale(0.93,1)" fill="#000" stroke="#000" stroke-width="0.12" font-size="10.0" text-anchor="start">29 Aug 09:00</text>
<rect x="965" y="770" width="1" height="3" fill="#000"/>
<text transform="translate(965,782) scale(0.93,1)" fill="#000" stroke="#000" stroke-width="0.12" font-size="10.0" text-anchor="start">1 Sep 01:00</text>
<rect x="1029" y="770" width="1" height="3" fill="#000"/>
<text transform="translate(1029,782) scale(0.93,1)" fill="#000" stroke="#000" stroke-width="0.12" font-size="10.0" text-anchor="start">1 Sep 17:00</text>
<rect x="1093" y="770" width="1" height="3" fill="#000"/>
<text transform="translate(1093,782) scale(0.93,1)" fill="#000" stroke="#000" stroke-width="0.12" font-size="10.0" text-anchor="start">2 Sep 09:00</text>
<rect x="1157" y="770" width="1" height="3" fill="#000"/>
<text transform="translate(1157,782) scale(0.93,1)" fill="#000" stroke="#000" stroke-width="0.12" font-size="10.0" text-anchor="start">3 Sep 01:00</text>
<rect x="1221" y="770" width="1" height="3" fill="#000"/>
<text transform="translate(1221,782) scale(0.93,1)" fill="#000" stroke="#000" stroke-width="0.12" font-size="10.0" text-anchor="start">3 Sep 17:00</text>
<rect x="1285" y="770" width="1" height="3" fill="#000"/>
<text transform="translate(1285,782) scale(0.93,1)" fill="#000" stroke="#000" stroke-width="0.12" font-size="10.0" text-anchor="start">4 Sep 09:00</text>
<rect x="1349" y="770" width="1" height="3" fill="#000"/>
<text transform="translate(1349,782) scale(0.93,1)" fill="#000" stroke="#000" stroke-width="0.12" font-size="10.0" text-anchor="start">5 Sep 01:00</text>
<rect x="1413" y="770" width="1" height="3" fill="#000"/>
<text transform="translate(1413,782) scale(0.93,1)" fill="#000" stroke="#000" stroke-width="0.12" font-size="10.0" text-anchor="start">5 Sep 17:00</text>
</svg>
</body></html>
